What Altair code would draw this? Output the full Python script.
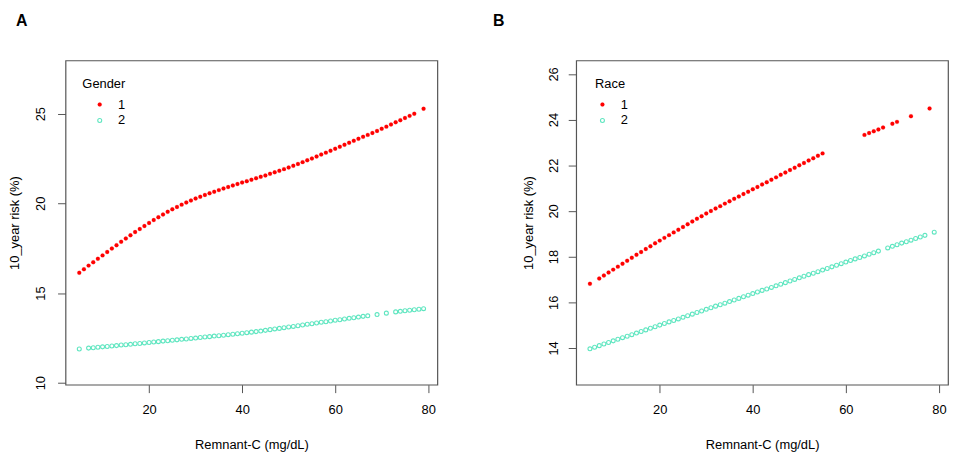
import altair as alt
import pandas as pd

RED = "#FF0000"
TEAL = "#5FE6C0"

# Panel A (Gender)
a1_x = [5,6,7,8,9,10,11,12,13,14,15,16,17,18,19,20,21,22,23,24,25,26,27,28,29,30,
        31,32,33,34,35,36,37,38,39,40,41,42,43,44,45,46,47,48,49,50,51,52,53,54,55,
        56,57,58,59,60,61,62,63,64,65,66,67,68,69,70,71,72,73,74,75,76,77,79]
a1_y = [16.13,16.33,16.53,16.72,16.91,17.10,17.29,17.48,17.67,17.86,18.04,18.22,18.40,18.57,18.74,18.91,
        19.07,19.23,19.38,19.53,19.67,19.80,19.93,20.05,20.16,20.27,
        20.37,20.47,20.56,20.65,20.74,20.83,20.91,21.00,21.08,21.16,
        21.24,21.32,21.40,21.48,21.56,21.65,21.73,21.82,21.91,22.00,
        22.10,22.20,22.30,22.40,22.50,22.61,22.72,22.83,22.94,23.05,
        23.16,23.27,23.38,23.49,23.60,23.71,23.82,23.93,24.04,24.16,
        24.28,24.40,24.52,24.64,24.76,24.88,25.00,25.28]
a2_x = [5,7,8,9,10,11,12,13,14,15,16,17,18,19,20,21,22,23,24,25,26,27,28,29,30,
        31,32,33,34,35,36,37,38,39,40,41,42,43,44,45,46,47,48,49,50,51,52,53,54,55,
        56,57,58,59,60,61,62,63,64,65,66,67,69,71,73,74,75,76,77,78,79]
a2_y = [11.88,
        11.93,11.95,11.98,12.00,12.02,12.05,12.07,12.10,12.12,12.14,12.17,12.19,12.22,12.24,
        12.27,12.29,12.32,12.34,12.37,12.39,12.42,12.44,12.47,12.49,
        12.52,12.55,12.57,12.60,12.62,12.65,12.68,12.70,12.73,12.76,
        12.79,12.82,12.85,12.88,12.92,
        12.96,13.00,13.03,13.07,13.11,13.14,13.18,13.22,13.26,13.29,
        13.33,13.37,13.40,13.44,13.48,13.51,13.55,13.59,13.62,13.66,13.70,13.73,
        13.80,13.88,
        13.95,13.98,14.01,14.04,14.07,14.10,14.13]

# Panel B (Race)
b1_x = [5,7,8,9,10,11,12,13,14,15,16,17,18,19,20,21,22,23,24,25,26,27,28,29,30,
        31,32,33,34,35,36,37,38,39,40,41,42,43,44,45,46,47,48,49,50,51,52,53,54,55,
        64,65,66,67,68,70,71,74,78]
b1_y = [16.81,
        17.04,17.17,17.30,17.43,17.56,17.69,17.82,17.95,18.08,18.20,18.33,18.45,
        18.58,18.70,18.82,18.94,19.06,19.18,19.30,19.42,19.54,19.66,19.77,19.89,
        20.00,20.11,20.21,20.32,20.42,20.53,20.63,20.74,20.84,20.95,21.05,21.16,21.26,
        21.37,21.47,21.58,21.68,21.79,21.89,22.00,22.10,22.21,22.31,22.42,22.52,
        23.33,23.41,23.49,23.57,23.65,23.82,23.90,24.15,24.49]
b2_x = [5,6,7,8,9,10,11,12,13,14,15,16,17,18,19,20,21,22,23,24,25,26,27,28,29,30,
        31,32,33,34,35,36,37,38,39,40,41,42,43,44,45,46,47,48,49,50,51,52,53,54,55,
        56,57,58,59,60,61,62,63,64,65,66,67,69,70,71,72,73,74,75,76,77,79]
b2_y = [13.96,14.03,14.10,14.17,14.24,14.31,14.38,14.45,14.51,14.58,14.65,14.72,14.79,14.86,14.93,15.00,
        15.07,15.14,15.20,15.27,15.34,15.41,15.48,15.55,15.62,15.69,
        15.76,15.83,15.89,15.96,16.03,16.10,16.17,16.24,16.31,16.38,
        16.45,16.52,16.58,16.65,16.72,16.79,16.86,16.93,17.00,17.07,
        17.14,17.21,17.27,17.34,17.41,17.48,17.55,17.62,17.69,17.76,
        17.83,17.90,17.96,18.03,18.10,18.17,18.24,
        18.38,18.45,18.52,18.59,18.65,18.72,18.79,18.86,18.93,19.07]

x_ticks = [20, 40, 60, 80]
ya_ticks = [10, 15, 20, 25]
yb_ticks = [14, 16, 18, 20, 22, 24, 26]
groups = ["1", "2"]

FONT = "Liberation Sans"


def make_df(field, x1, y1, x2, y2):
    return pd.DataFrame({
        "x": x1 + x2,
        "y": y1 + y2,
        field: ["1"] * len(x1) + ["2"] * len(x2),
    })


def panel(df, field, ydom, yticks, label, title_dx, ylab_pad, ytitle_pad,
          leg_x, sym_off, width):
    leg = alt.Legend(orient="none", legendX=leg_x, legendY=18, title=field,
                     titleFontSize=13, titleFontWeight="normal", titleFont=FONT,
                     titleColor="#000", labelColor="#000",
                     labelFontSize=13, labelFont=FONT, symbolSize=16,
                     symbolStrokeWidth=1.1, symbolOffset=sym_off, labelOffset=12,
                     rowPadding=2, titlePadding=7, padding=0, symbolType="circle")
    return alt.Chart(df).mark_point(shape="circle", size=16, opacity=1).encode(
        x=alt.X("x:Q", scale=alt.Scale(domain=[2.04, 81.96], nice=False, zero=False),
                axis=alt.Axis(values=x_ticks, title="Remnant-C (mg/dL)", labelPadding=11,
                              titlePadding=22)),
        y=alt.Y("y:Q", scale=alt.Scale(domain=ydom, nice=False, zero=False),
                axis=alt.Axis(values=yticks, title="10_year risk (%)", labelAngle=-90,
                              labelAlign="center", labelBaseline="bottom", labelPadding=ylab_pad,
                              titlePadding=ytitle_pad)),
        stroke=alt.Stroke(f"{field}:N", scale=alt.Scale(domain=groups, range=[RED, TEAL]), legend=leg),
        fill=alt.Fill(f"{field}:N", scale=alt.Scale(domain=groups, range=[RED, "transparent"]), legend=leg),
        strokeWidth=alt.StrokeWidth(f"{field}:N", scale=alt.Scale(domain=groups, range=[0.2, 1.1]), legend=None),
    ).properties(
        width=width, height=327,
        title=alt.TitleParams(label, anchor="start", frame="group", fontSize=16, fontWeight="bold",
                              font=FONT, color="#000", dx=title_dx, offset=32, baseline="top"),
    )


dfA = make_df("Gender", a1_x, a1_y, a2_x, a2_y)
dfB = make_df("Race", b1_x, b1_y, b2_x, b2_y)

chA = panel(dfA, "Gender", [9.89, 27.97], ya_ticks, "A", -50, 10, 13, 17, 11, 375)
chB = panel(dfB, "Race", [12.39, 26.59], yb_ticks, "B", -84, 8, 12, 19, 1, 375)

chart = alt.hconcat(chA, chB, spacing=54).resolve_scale(
    x="independent", y="independent", fill="independent", stroke="independent",
    strokeWidth="independent"
).resolve_legend(fill="independent", stroke="independent").configure(
    padding={"left": 0, "top": 2, "right": 0, "bottom": 0}
).configure_view(
    stroke="#555555", strokeWidth=1.2
).configure_axis(
    domain=False, grid=False, tickColor="#555555", tickSize=8, tickWidth=1,
    labelFont=FONT, labelFontSize=13, labelColor="#000",
    titleFont=FONT, titleFontSize=13, titleFontWeight="normal", titleColor="#000",
)

chart.save("out.html", embed_options={"renderer": "svg", "actions": False})
